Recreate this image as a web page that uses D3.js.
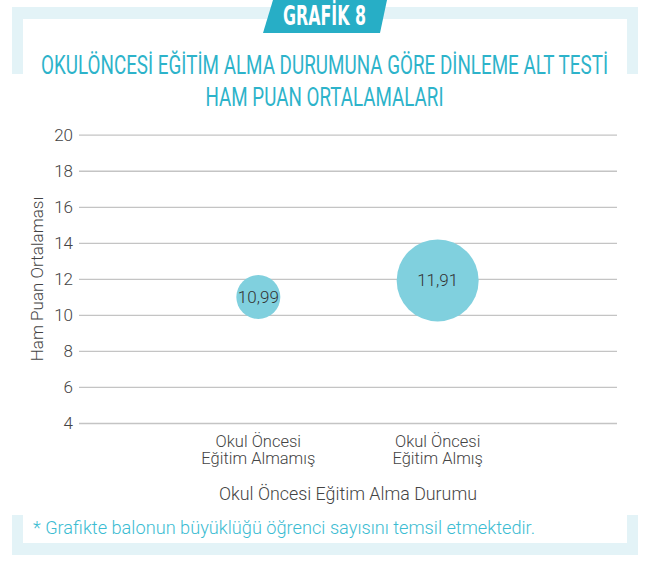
<!DOCTYPE html>
<html>
<head>
<meta charset="utf-8">
<script src="https://cdn.jsdelivr.net/npm/d3@7"></script>
<style>
  html, body { margin: 0; padding: 0; background: #fff; }
  svg { display: block; }
</style>
</head>
<body>
<div id="chart"></div>
<script>
// data
var categories = ["Okul Öncesi|Eğitim Almamış", "Okul Öncesi|Eğitim Almış"];
var means = [10.99, 11.91];
// bubble area ~ number of students
var students = [1260, 4380];
var yTicks = [4, 6, 8, 10, 12, 14, 16, 18, 20];

var W = 649, H = 561,
    frameColor = '#e3f3f7',
    teal = '#27aec6',
    bubbleColor = '#80d0de',
    textColor = '#444',
    bodyFont = 'Roboto, sans-serif',
    narrowFont = '"Liberation Sans Narrow", "DejaVu Sans Condensed", sans-serif';

var svg = d3.select('#chart').append('svg')
  .attr('width', W)
  .attr('height', H);

// frame bands (top and bottom brackets)
var frame = svg.append('g').attr('fill', frameColor);
frame.append('rect').attr('x', 12).attr('y', 7).attr('width', 626).attr('height', 12);
frame.append('rect').attr('x', 12).attr('y', 7).attr('width', 11).attr('height', 67);
frame.append('rect').attr('x', 627).attr('y', 7).attr('width', 11).attr('height', 67);
frame.append('rect').attr('x', 12).attr('y', 543).attr('width', 626).attr('height', 12);
frame.append('rect').attr('x', 12).attr('y', 515).attr('width', 11).attr('height', 40);
frame.append('rect').attr('x', 627).attr('y', 515).attr('width', 11).attr('height', 40);

// tab
svg.append('polygon')
  .attr('points', '273,0 387,0 380,33 263,33')
  .attr('fill', teal);
svg.append('text')
  .attr('x', 324.5).attr('y', 25)
  .attr('text-anchor', 'middle')
  .attr('fill', '#fff')
  .attr('font-family', narrowFont)
  .attr('font-weight', 'bold')
  .attr('font-size', 26)
  .attr('textLength', 83)
  .attr('lengthAdjust', 'spacingAndGlyphs')
  .text('GRAFİK 8');

// title
var titleLines = [
  {t: 'OKULÖNCESİ EĞİTİM ALMA DURUMUNA GÖRE DİNLEME ALT TESTİ', y: 74, w: 567},
  {t: 'HAM PUAN ORTALAMALARI', y: 106, w: 238}
];
svg.selectAll('.title').data(titleLines).enter().append('text')
  .attr('class', 'title')
  .attr('x', 324.5)
  .attr('y', function(d) { return d.y; })
  .attr('text-anchor', 'middle')
  .attr('fill', '#2db3ca')
  .attr('font-family', bodyFont)
  .attr('font-weight', 400)
  .attr('font-size', 26)
  .attr('textLength', function(d) { return d.w; })
  .attr('lengthAdjust', 'spacingAndGlyphs')
  .text(function(d) { return d.t; });

// plot area
var plotLeft = 79, plotRight = 617, plotTop = 134.7, plotBottom = 423;

var y = d3.scaleLinear().domain([4, 20]).range([plotBottom, plotTop]);
var x = d3.scalePoint().domain(categories).range([plotLeft, plotRight]).padding(1);
var r = d3.scaleSqrt().domain([0, d3.max(students)]).range([0, 41]);

var yAxis = svg.append('g')
  .attr('transform', 'translate(' + plotLeft + ',0)')
  .call(d3.axisLeft(y).tickValues(yTicks).tickSize(-(plotRight - plotLeft)).tickPadding(6));
yAxis.select('.domain').remove();
yAxis.selectAll('.tick line').attr('stroke', '#c4c4c4').attr('stroke-width', 1.3);
yAxis.selectAll('.tick text')
  .attr('fill', textColor)
  .attr('font-family', bodyFont)
  .attr('font-weight', 300)
  .attr('font-size', 17);

// y title
svg.append('text')
  .attr('transform', 'translate(43,279) rotate(-90)')
  .attr('text-anchor', 'middle')
  .attr('fill', textColor)
  .attr('font-family', bodyFont)
  .attr('font-weight', 300)
  .attr('font-size', 17)
  .text('Ham Puan Ortalaması');

// bubbles
var pts = categories.map(function(c, i) {
  return {cat: c, mean: means[i], n: students[i]};
});
var b = svg.selectAll('.bubble').data(pts).enter().append('g').attr('class', 'bubble');
b.append('circle')
  .attr('cx', function(d) { return x(d.cat); })
  .attr('cy', function(d) { return y(d.mean); })
  .attr('r', function(d) { return r(d.n); })
  .attr('fill', bubbleColor);
b.append('text')
  .attr('x', function(d) { return x(d.cat); })
  .attr('y', function(d) { return y(d.mean) + 6; })
  .attr('text-anchor', 'middle')
  .attr('fill', '#333')
  .attr('font-family', bodyFont)
  .attr('font-weight', 300)
  .attr('font-size', 17)
  .text(function(d) { return d3.format('.2f')(d.mean).replace('.', ','); });

// x category labels
var xl = svg.selectAll('.xlab').data(categories).enter().append('text')
  .attr('class', 'xlab')
  .attr('y', 447)
  .attr('text-anchor', 'middle')
  .attr('fill', textColor)
  .attr('font-family', bodyFont)
  .attr('font-weight', 300)
  .attr('font-size', 16.5);
xl.selectAll('tspan').data(function(d) { return d.split('|').map(function(s) { return {s: s, c: d}; }); })
  .enter().append('tspan')
  .attr('x', function(d) { return x(d.c); })
  .attr('dy', function(d, i) { return i ? 16.5 : 0; })
  .text(function(d) { return d.s; });

// x title
svg.append('text')
  .attr('x', 348).attr('y', 500)
  .attr('text-anchor', 'middle')
  .attr('fill', textColor)
  .attr('font-family', bodyFont)
  .attr('font-weight', 300)
  .attr('font-size', 17.5)
  .attr('textLength', 258)
  .attr('lengthAdjust', 'spacingAndGlyphs')
  .text('Okul Öncesi Eğitim Alma Durumu');

// footnote
svg.append('text')
  .attr('x', 33).attr('y', 534)
  .attr('fill', '#3bbcd2')
  .attr('font-family', bodyFont)
  .attr('font-weight', 300)
  .attr('font-size', 17.5)
  .attr('textLength', 502)
  .attr('lengthAdjust', 'spacingAndGlyphs')
  .text('* Grafikte balonun büyüklüğü öğrenci sayısını temsil etmektedir.');
</script>
</body>
</html>
